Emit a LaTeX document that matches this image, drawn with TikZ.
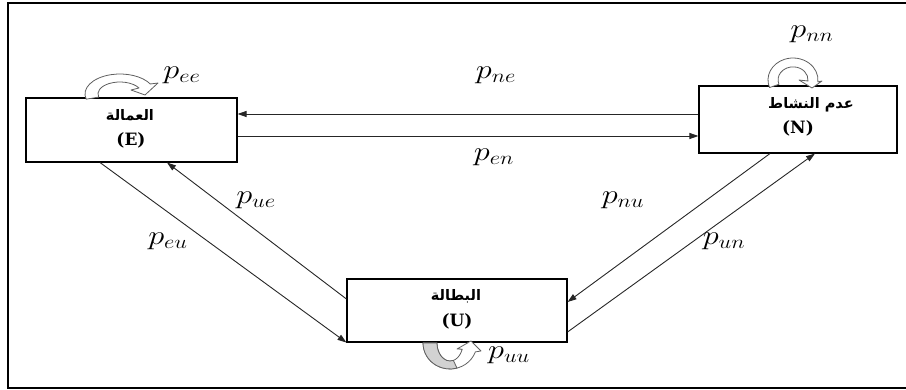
\RequirePackage{fix-cm}
\documentclass[tikz,border=0pt]{standalone}
\usepackage{fontspec}
\usepackage{graphicx}
\usetikzlibrary{arrows.meta,calc}
\TeXXeTstate=1
\newfontfamily\arabicfont[Script=Arabic]{DejaVu Sans}
\newfontfamily\capfont{DejaVu Serif}
\newcommand{\plbl}[1]{\scalebox{1.2}[1]{$p_{#1}$}}
\tikzset{
  box/.style={draw=black, line width=1.1pt, inner sep=0pt},
  arr/.style={draw=black!85, line width=0.9pt, -{Triangle[length=9pt,width=6pt]}},
  lbl/.style={font=\fontsize{27}{31}\selectfont, inner sep=0pt},
  artxt/.style={font=\arabicfont\bfseries\fontsize{14.5}{17}\selectfont, inner sep=0pt},
  captxt/.style={font=\capfont\bfseries\fontsize{17}{20}\selectfont, inner sep=0pt},
  loopst/.style={draw=gray!75!black, line width=0.8pt, fill=white, line join=round},
  loopgray/.style={draw=gray!75!black, line width=0.8pt, fill=gray!35, line join=round},
  frame/.style={line width=2.6pt, draw=black}
}
\begin{document}
\begin{tikzpicture}[x=1pt,y=1pt]
\useasboundingbox (0,0) rectangle (906,390);
% outer frame
\draw[frame] (906,387) -- (8,387) -- (8,2) -- (906,2);

% boxes
\node[box, minimum width=211pt, minimum height=64pt] (E) at (131.5,260) {};
\node[box, minimum width=198pt, minimum height=67pt] (N) at (798,270.5) {};
\node[box, minimum width=220pt, minimum height=63pt] (U) at (457,79.5) {};

% box texts
\node[artxt] (Ear) at (130,275) {\beginR العمالة\endR};
\node[captxt] (Ecap) at (131,250) {(E)};
\node[artxt] (Nar) at (811,285) {\beginR عدم النشاط\endR};
\node[captxt] (Ncap) at (798,262) {(N)};
\node[artxt] (Uar) at (456,94) {\beginR البطالة\endR};
\node[captxt] (Ucap) at (457,69) {(U)};

% connectors
\draw[arr] ([yshift=5.5pt]N.west) -- ([yshift=16pt]E.east);
\draw[arr] ([yshift=-6pt]E.east) -- ([yshift=-16.5pt]N.west);
\draw[arr] ([xshift=-31.5pt]E.south) -- (U.south west);
\draw[arr] ([yshift=11.5pt]U.west) -- ([xshift=35.5pt]E.south);
\draw[arr] ([xshift=-28pt]N.south) -- ([yshift=8.5pt]U.east);
\draw[arr] ([yshift=-21.5pt]U.east) -- ([xshift=17pt]N.south);

% transition labels
\node[lbl] (lee) at (182,315) {\plbl{ee}};
\node[lbl] (lnn) at (812,356) {\plbl{nn}};
\node[lbl] (lne) at (496,315) {\plbl{ne}};
\node[lbl] (len) at (494,233) {\plbl{en}};
\node[lbl] (lue) at (256,190) {\plbl{ue}};
\node[lbl] (leu) at (168,149) {\plbl{eu}};
\node[lbl] (lnu) at (623,190) {\plbl{nu}};
\node[lbl] (lun) at (724,149) {\plbl{un}};
\node[lbl] (luu) at (509,35) {\plbl{uu}};

% self-loop arrows
% E loop
\draw[loopst] (120,296) ++(195:35 and 20)
  arc[start angle=195, end angle=30, x radius=35, y radius=20]
  -- (158,307) -- (145,295) -- (131,300) -- (139,302)
  arc[start angle=30, end angle=195, x radius=22, y radius=12] -- cycle;
% N loop
\draw[loopst] (793,310) ++(200:25 and 22)
  arc[start angle=200, end angle=-5, x radius=25, y radius=22]
  -- (822,309) -- (812,302) -- (799,310) -- (808,309)
  arc[start angle=-5, end angle=200, x radius=15, y radius=13] -- cycle;
% U loop
\draw[loopst] (450,47) ++(180:27 and 26)
  arc[start angle=180, end angle=340, x radius=27, y radius=26]
  -- (481,39) -- (471,49) -- (457,41) -- (462.2,40.8)
  arc[start angle=340, end angle=180, x radius=13, y radius=18] -- cycle;
\draw[loopgray] (450,47) ++(180:27 and 26)
  arc[start angle=180, end angle=285, x radius=27, y radius=26]
  -- ($(450,47)+(285:13 and 18)$)
  arc[start angle=285, end angle=180, x radius=13, y radius=18] -- cycle;
\end{tikzpicture}
\end{document}
